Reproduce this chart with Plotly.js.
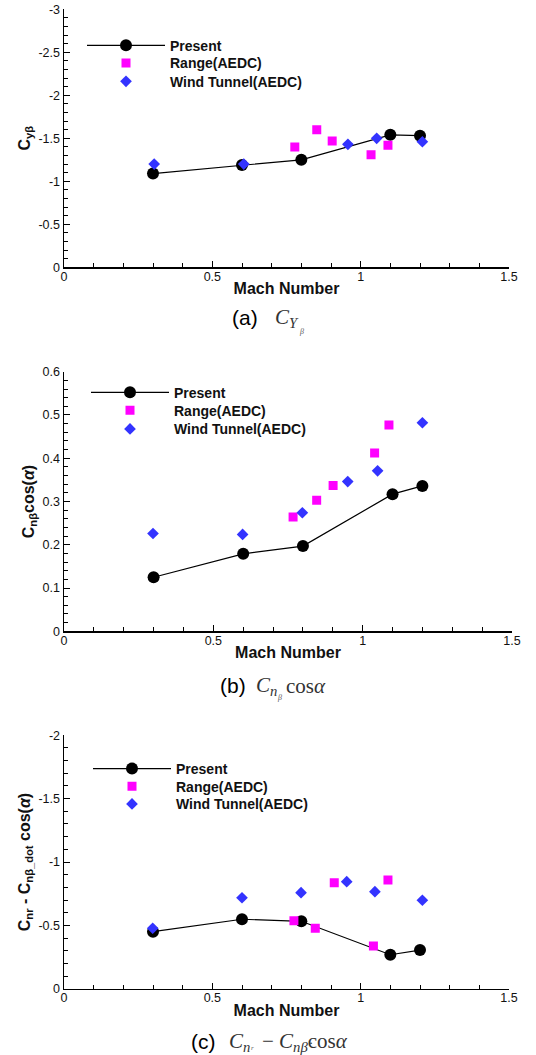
<!DOCTYPE html>
<html>
<head>
<meta charset="utf-8">
<script src="https://cdn.plot.ly/plotly-3.0.1.min.js"></script>
<style>html,body{margin:0;padding:0;background:#fff;}#chart{width:536px;height:1055px;}</style>
</head>
<body>
<div id="chart"></div>
<script>
// ---- Data ----
const seriesNames = ["Present", "Range(AEDC)", "Wind Tunnel(AEDC)"];

// (a) C_Y_beta
const a_presentMach = [0.3, 0.6, 0.8, 1.1, 1.2];
const a_presentVal  = [-1.09, -1.19, -1.25, -1.54, -1.53];
const a_rangeMach   = [0.778, 0.852, 0.904, 1.035, 1.092];
const a_rangeVal    = [-1.40, -1.60, -1.47, -1.31, -1.42];
const a_windMach    = [0.304, 0.606, 0.957, 1.054, 1.208];
const a_windVal     = [-1.20, -1.20, -1.43, -1.50, -1.46];

// (b) C_n_beta cos(alpha)
const b_presentMach = [0.3, 0.6, 0.8, 1.1, 1.2];
const b_presentVal  = [0.125, 0.179, 0.197, 0.317, 0.336];
const b_rangeMach   = [0.767, 0.846, 0.901, 1.040, 1.088];
const b_rangeVal    = [0.264, 0.303, 0.337, 0.412, 0.477];
const b_windMach    = [0.298, 0.598, 0.798, 0.950, 1.050, 1.200];
const b_windVal     = [0.226, 0.224, 0.274, 0.346, 0.371, 0.482];

// (c) C_nr - C_n_beta_dot cos(alpha)
const c_presentMach = [0.3, 0.6, 0.8, 1.1, 1.2];
const c_presentVal  = [-0.45, -0.548, -0.532, -0.268, -0.305];
const c_rangeMach   = [0.775, 0.847, 0.911, 1.043, 1.092];
const c_rangeVal    = [-0.537, -0.477, -0.837, -0.337, -0.858];
const c_windMach    = [0.299, 0.600, 0.799, 0.953, 1.048, 1.208];
const c_windVal     = [-0.477, -0.718, -0.758, -0.845, -0.766, -0.698];

// ---- Tick labels ----
const xTickVals = [0, 0.5, 1, 1.5];
const xTickText = ["0", "0.5", "1", "1.5"];
const aTickVals = [0, -0.5, -1, -1.5, -2, -2.5, -3];
const aTickText = ["0", "-0.5", "-1", "-1.5", "-2", "-2.5", "-3"];
const bTickVals = [0, 0.1, 0.2, 0.3, 0.4, 0.5, 0.6];
const bTickText = ["0", "0.1", "0.2", "0.3", "0.4", "0.5", "0.6"];
const cTickVals = [0, -0.5, -1, -1.5, -2];
const cTickText = ["0", "-0.5", "-1", "-1.5", "-2"];

// ---- Styles ----
const W = 536, H = 1055;
const sans = "Liberation Sans, Arial, sans-serif";
const serif = "Liberation Serif, Times New Roman, serif";
const blue = "#3333ff", magenta = "#ff00ff";

function traces(px, py, rx, ry, wx, wy, xa, ya, lgs) {
  return [
    {x: px, y: py, xaxis: xa, yaxis: ya, legend: lgs[0], name: seriesNames[0], type: "scatter", mode: "lines+markers",
     line: {color: "black", width: 1.2}, marker: {symbol: "circle", size: 12, color: "black"}},
    {x: rx, y: ry, xaxis: xa, yaxis: ya, legend: lgs[1], name: seriesNames[1], type: "scatter", mode: "markers",
     marker: {symbol: "square", size: 9, color: magenta}},
    {x: wx, y: wy, xaxis: xa, yaxis: ya, legend: lgs[2], name: seriesNames[2], type: "scatter", mode: "markers",
     marker: {symbol: "diamond", size: 9, color: blue}}
  ];
}

const data = [].concat(
  traces(a_presentMach, a_presentVal, a_rangeMach, a_rangeVal, a_windMach, a_windVal, "x", "y", ["legend", "legend2", "legend3"]),
  traces(b_presentMach, b_presentVal, b_rangeMach, b_rangeVal, b_windMach, b_windVal, "x2", "y2", ["legend4", "legend5", "legend6"]),
  traces(c_presentMach, c_presentVal, c_rangeMach, c_rangeVal, c_windMach, c_windVal, "x3", "y3", ["legend7", "legend8", "legend9"])
);

function xAxis(domain, anchor) {
  return {
    domain: domain, anchor: anchor, range: [0, 1.5],
    tickvals: xTickVals, ticktext: xTickText,
    ticks: "inside", ticklen: 6, tickwidth: 1, tickcolor: "black",
    ticklabelstandoff: -3,
    minor: {dtick: 0.1, ticks: "inside", ticklen: 4, tickcolor: "black", showgrid: false},
    showline: true, linecolor: "black", linewidth: 1.5,
    showgrid: false, zeroline: false,
    tickfont: {family: sans, size: 12.5, color: "#111"},
    title: {text: "Mach Number", font: {family: sans, size: 16, color: "#111", weight: "bold"}, standoff: 0}
  };
}
function yAxis(domain, anchor, range, tv, tt, minorDtick, title) {
  return {
    domain: domain, anchor: anchor, range: range, tickvals: tv, ticktext: tt,
    ticks: "inside", ticklen: 6, tickwidth: 1, tickcolor: "black",
    minor: {dtick: minorDtick, tick0: 0, ticks: "inside", ticklen: 4, tickcolor: "black", showgrid: false},
    showline: true, linecolor: "black", linewidth: 1.5,
    showgrid: false, zeroline: false,
    tickfont: {family: sans, size: 12.5, color: "#111"},
    title: {text: title, font: {family: sans, size: 16, color: "#111", weight: "bold"}, standoff: 4}
  };
}

function legendAt(xpx, ymid) {
  return {
    x: xpx / W, xanchor: "left", y: 1 - ymid / H, yanchor: "middle",
    bgcolor: "rgba(0,0,0,0)", borderwidth: 0, itemwidth: 78,
    font: {family: sans, size: 14, color: "#111", weight: "bold"}
  };
}

const xd = [64 / W, 509 / W];
const xdb = [64 / W, 512 / W];

const layout = {
  width: W, height: H,
  margin: {l: 0, r: 0, t: 0, b: 0},
  paper_bgcolor: "white", plot_bgcolor: "white",
  showlegend: true,
  xaxis: xAxis(xd, "y"),
  yaxis: yAxis([1 - 267.3 / H, 1 - 9.3 / H], "x", [0, -3], aTickVals, aTickText, 0.1, "C<sub>yβ</sub>"),
  xaxis2: xAxis(xdb, "y2"),
  yaxis2: yAxis([1 - 631.3 / H, 1 - 371.7 / H], "x2", [0, 0.6], bTickVals, bTickText, 0.02, "C<sub>nβ</sub>cos(<i>α</i>)"),
  xaxis3: xAxis(xd, "y3"),
  yaxis3: yAxis([1 - 988.7 / H, 1 - 735.3 / H], "x3", [0, -2], cTickVals, cTickText, 0.1, "C<sub>nr</sub> - C<sub>nβ_dot</sub> cos(<i>α</i>)"),
  legend: legendAt(82, 45.7),
  legend2: legendAt(82, 63.3),
  legend3: legendAt(82, 81.7),
  legend4: legendAt(86, 392.7),
  legend5: legendAt(86, 410.7),
  legend6: legendAt(86, 429.3),
  legend7: legendAt(88, 769),
  legend8: legendAt(88, 786.7),
  legend9: legendAt(88, 804.3),
  annotations: [
    {xref: "paper", yref: "paper", x: 245 / W, y: 1 - 317 / H, xanchor: "center", yanchor: "middle", showarrow: false,
     text: "(a)", font: {family: sans, size: 21, color: "#000"}},
    {xref: "paper", yref: "paper", x: 273 / W, y: 1 - 318 / H, xanchor: "left", yanchor: "middle", showarrow: false,
     text: "<i>C</i><sub><i>Y</i></sub>", font: {family: serif, size: 21, color: "#333"}},
    {xref: "paper", yref: "paper", x: 301 / W, y: 1 - 332 / H, xanchor: "center", yanchor: "middle", showarrow: false,
     text: "<i>β</i>", font: {family: serif, size: 8, color: "#555"}},

    {xref: "paper", yref: "paper", x: 233 / W, y: 1 - 685 / H, xanchor: "center", yanchor: "middle", showarrow: false,
     text: "(b)", font: {family: sans, size: 21, color: "#000"}},
    {xref: "paper", yref: "paper", x: 254 / W, y: 1 - 686 / H, xanchor: "left", yanchor: "middle", showarrow: false,
     text: "<i>C</i><sub><i>n</i></sub>", font: {family: serif, size: 21, color: "#333"}},
    {xref: "paper", yref: "paper", x: 279 / W, y: 1 - 697 / H, xanchor: "center", yanchor: "middle", showarrow: false,
     text: "<i>β</i>", font: {family: serif, size: 8, color: "#555"}},
    {xref: "paper", yref: "paper", x: 284 / W, y: 1 - 686 / H, xanchor: "left", yanchor: "middle", showarrow: false,
     text: "cos<i>α</i>", font: {family: serif, size: 21, color: "#333"}},

    {xref: "paper", yref: "paper", x: 203 / W, y: 1 - 1041 / H, xanchor: "center", yanchor: "middle", showarrow: false,
     text: "(c)", font: {family: sans, size: 21, color: "#000"}},
    {xref: "paper", yref: "paper", x: 227 / W, y: 1 - 1042 / H, xanchor: "left", yanchor: "middle", showarrow: false,
     text: "<i>C</i><sub><i>n</i></sub>", font: {family: serif, size: 21, color: "#333"}},
    {xref: "paper", yref: "paper", x: 252 / W, y: 1 - 1048 / H, xanchor: "center", yanchor: "middle", showarrow: false,
     text: "<i>r</i>", font: {family: serif, size: 7, color: "#555"}},
    {xref: "paper", yref: "paper", x: 260 / W, y: 1 - 1042 / H, xanchor: "left", yanchor: "middle", showarrow: false,
     text: "− <i>C</i><sub><i>nβ̇</i></sub>cos<i>α</i>", font: {family: serif, size: 21, color: "#333"}}
  ]
};

Plotly.newPlot("chart", data, layout, {staticPlot: true, displayModeBar: false});
</script>
</body>
</html>
